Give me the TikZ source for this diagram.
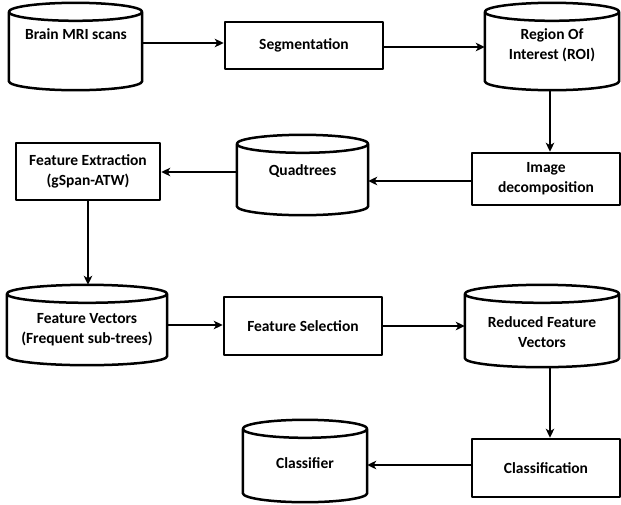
\documentclass[tikz,border=0pt]{standalone}
\usepackage{fontspec}
\setmainfont{Carlito}
\usetikzlibrary{arrows.meta,calc}

% outline of a drum (database cylinder) around an empty named node
\newcommand\drum[2][9]{%
  \draw[outline] let \p1=(#2.north west), \p2=(#2.south east),
        \n1={(\x2-\x1)/2} in
    (\x1,\y1-#1pt) -- (\x1,\y2+#1pt)
      arc[start angle=180, end angle=360, x radius=\n1*1pt, y radius=#1pt]
      -- (\x2,\y1-#1pt)
    (\x1+\n1*1pt,\y1-#1pt) ellipse[x radius=\n1*1pt, y radius=#1pt];
}

\tikzset{
  outline/.style={draw=black, line width=2.5pt, line join=round},
  procbox/.style={outline, fill=white, rectangle, inner sep=0pt, align=center,
                  font=\fontsize{15.5}{20}\selectfont\bfseries},
  drumbody/.style={rectangle, inner sep=0pt},
  lbl/.style={inner sep=0pt, align=center,
              font=\fontsize{15.5}{20}\selectfont\bfseries},
  arr/.style={line width=2.5pt, -{Stealth[length=9pt, width=8.5pt, inset=2.5pt]}},
}

\begin{document}
\begin{tikzpicture}[x=1pt, y=-1pt]
\fill[white] (0,0) rectangle (621,504);
\useasboundingbox (0,0) rectangle (621,504);

% ---- row 1
\node[drumbody, minimum width=133pt, minimum height=87pt] (brain) at (75.5,46.5) {};
\drum{brain}
\node[lbl] (brainT) at (76,34) {Brain MRI scans};

\node[procbox, minimum width=158pt, minimum height=47pt] (seg) at (304,45.5) {Segmentation};

\node[drumbody, minimum width=134pt, minimum height=87pt] (roi) at (552,46.5) {};
\drum{roi}
\node[lbl] (roiT) at (552,45) {Region Of\\Interest (ROI)};

% ---- row 2
\node[procbox, minimum width=144pt, minimum height=57pt] (fext) at (88,171.5)
  {Feature Extraction\\(gSpan-ATW)};

\node[drumbody, minimum width=131pt, minimum height=80pt] (quad) at (302.5,175) {};
\drum{quad}
\node[lbl] (quadT) at (302.5,171) {Quadtrees};

\node[procbox, minimum width=148pt, minimum height=52pt] (imgdec) at (546,179)
  {Image\\decomposition};

% ---- row 3
\node[drumbody, minimum width=160pt, minimum height=80pt] (fvec) at (87,325) {};
\drum{fvec}
\node[lbl] (fvecT) at (87,330) {Feature Vectors\\(Frequent sub-trees)};

\node[procbox, minimum width=158pt, minimum height=58pt] (fsel) at (303,326) {Feature Selection};

\node[drumbody, minimum width=154pt, minimum height=82pt] (rfv) at (542,326) {};
\drum{rfv}
\node[lbl] (rfvT) at (542,332) {Reduced Feature\\Vectors};

% ---- row 4
\node[drumbody, minimum width=124pt, minimum height=82pt] (clf) at (305,461) {};
\drum{clf}
\node[lbl] (clfT) at (305,463) {Classifier};

\node[procbox, minimum width=148pt, minimum height=58pt] (cls) at (546,468) {Classification};

% ---- connectors
\draw[arr] (brain.east |- 0,43) -- (seg.west |- 0,43);
\draw[arr] (seg.east |- 0,47) -- (roi.west |- 0,47);
\draw[arr] (roi.south -| 550,0) -- (imgdec.north -| 550,0);
\draw[arr] (imgdec.west |- 0,181) -- (quad.east |- 0,181);
\draw[arr] (quad.west |- 0,172) -- (fext.east |- 0,172);
\draw[arr] (fext.south -| 88,0) -- (fvec.north -| 88,0);
\draw[arr] (fvec.east |- 0,325) -- (fsel.west |- 0,325);
\draw[arr] (fsel.east |- 0,326) -- (rfv.west |- 0,326);
\draw[arr] (rfv.south -| 550,0) -- (cls.north -| 550,0);
\draw[arr] (cls.west |- 0,465) -- (clf.east |- 0,465);
\end{tikzpicture}
\end{document}
